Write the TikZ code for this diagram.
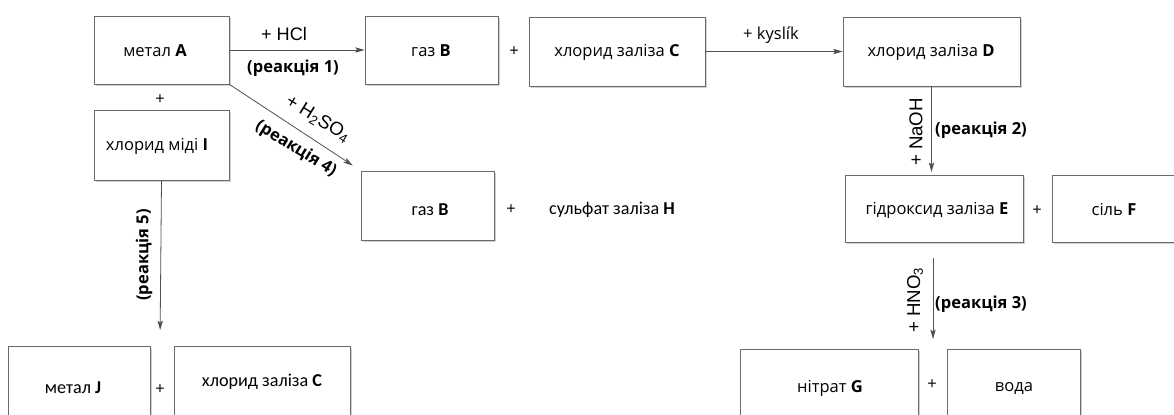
\documentclass[tikz,border=0pt]{standalone}
\usepackage{fontspec}
\setmainfont{Open Sans}
\newfontfamily\arialfont{Liberation Sans}
\newfontfamily\narrowfont{Carlito}
\usetikzlibrary{fit,shadows,arrows.meta}
\definecolor{linegray}{HTML}{505050}
\definecolor{boxgray}{HTML}{6A6A6A}
\newcommand{\boxfont}{\fontsize{12.4}{14}\selectfont}
\newcommand{\condfont}{\narrowfont\fontsize{13.6}{15}\selectfont}
\newcommand{\reagfont}{\arialfont\fontsize{13.6}{15}\selectfont}
\newcommand{\sidefont}{\arialfont\fontsize{14}{16}\selectfont}
\tikzset{
  box/.style={draw=boxgray, line width=0.6pt, fill=white, inner sep=0pt,
    drop shadow={shadow xshift=1.3pt, shadow yshift=-1.3pt, fill=black!22, opacity=0.8}},
  lbl/.style={inner sep=0pt, font=\boxfont},
  condlbl/.style={inner sep=0pt, font=\condfont},
  boldlbl/.style={inner sep=0pt, font=\boxfont\bfseries},
  reag/.style={inner sep=0pt, font=\reagfont},
  sidereag/.style={inner sep=0pt, font=\sidefont},
  plus/.style={inner sep=0pt, font=\boxfont},
  arr/.style={draw=linegray, line width=0.6pt, -{Stealth[length=7pt, width=4pt, inset=1.4pt]}}
}
\begin{document}
\begin{tikzpicture}[x=0.75pt, y=-0.75pt]
\useasboundingbox (0,0) rectangle (1174,414);
\clip (0,0) rectangle (1174,414);

% boxes
\node[box, fit={(94,16) (229,84)}] (A) {};
\node[box, fit={(365,16) (498,84)}] (B) {};
\node[box, fit={(529,17) (705,86)}] (C) {};
\node[box, fit={(843,17) (1020,86)}] (D) {};
\node[box, fit={(94,110) (229,180)}] (I) {};
\node[box, fit={(361,171) (494,240)}] (B2) {};
\node[box, fit={(845,175) (1023,242)}] (E) {};
\node[box, fit={(1052,175) (1180,242)}] (F) {};
\node[box, fit={(8,346) (150,440)}] (J) {};
\node[box, fit={(174,346) (350,440)}] (C2) {};
\node[box, fit={(740,349) (918,440)}] (G) {};
\node[box, fit={(947,349) (1080,440)}] (W) {};

% box texts
\node[lbl] (At) at (155,51) {метал \textbf{A}};
\node[lbl] (Bt) at (431,51) {газ \textbf{B}};
\node[lbl] (Ct) at (617,52) {хлорид заліза \textbf{C}};
\node[lbl] (Dt) at (931,52) {хлорид заліза \textbf{D}};
\node[lbl] (It) at (157,146) {хлорид міді \textbf{I}};
\node[condlbl] (B2t) at (430,210) {газ \textbf{B}};
\node[condlbl] (H) at (612,210) {сульфат заліза \textbf{H}};
\node[lbl] (Et) at (937,210) {гідроксид заліза \textbf{E}};
\node[lbl] (Ft) at (1114,210) {сіль \textbf{F}};
\node[condlbl] (Jt) at (73,388) {метал \textbf{J}};
\node[condlbl] (C2t) at (262,382) {хлорид заліза \textbf{C}};
\node[lbl] (Gt) at (830,388) {нітрат \textbf{G}};
\node[lbl] (Wt) at (1014,389) {вода};

% plus signs
\node[plus] (p1) at (514,52) {+};
\node[plus] (p2) at (160,100) {+};
\node[plus] (p3) at (511,210) {+};
\node[plus] (p4) at (1037,211) {+};
\node[plus] (p5) at (160,390) {+};
\node[plus] (p6) at (932,385) {+};

% free ends of the downward arrows
\coordinate (JC) at (160,346);
\coordinate (GW) at (933,349);

% connectors
\draw[arr] (A.east) -- (B.west);
\draw[arr] (C.east) -- (D.west);
\draw[arr, shorten >=2pt] (D.south) -- (D.south |- E.north);
\draw[arr, shorten <=12pt, shorten >=7.5pt] (E.south -| GW) -- (GW);
\draw[arr, shorten >=7pt] (A.south east) -- (B2.north west);
\draw[arr, shorten >=12pt] (I.south) -- (JC);

% reaction labels
\node[reag] (l1) at (284,34) {+ HCl};
\node[boldlbl] (r1) at (293,68) {(реакція 1)};
\node[lbl] (l2) at (771,35) {+ kyslík};
\node[sidereag, rotate=90] (l3) at (916,132) {+ NaOH};
\node[boldlbl] (r2) at (981,130) {(реакція 2)};
\node[sidereag, rotate=90] (l4) at (915,300) {+ HNO\textsubscript{3}};
\node[boldlbl] (r3) at (981,304) {(реакція 3)};
\node[sidereag, rotate=-31.6] (l5) at (318,119) {+ H\textsubscript{2}SO\textsubscript{4}};
\node[boldlbl, rotate=-31.6] (r4) at (296,149) {(реакція 4)};
\node[boldlbl, rotate=90] (r5) at (144,255) {(реакція 5)};
\end{tikzpicture}
\end{document}
